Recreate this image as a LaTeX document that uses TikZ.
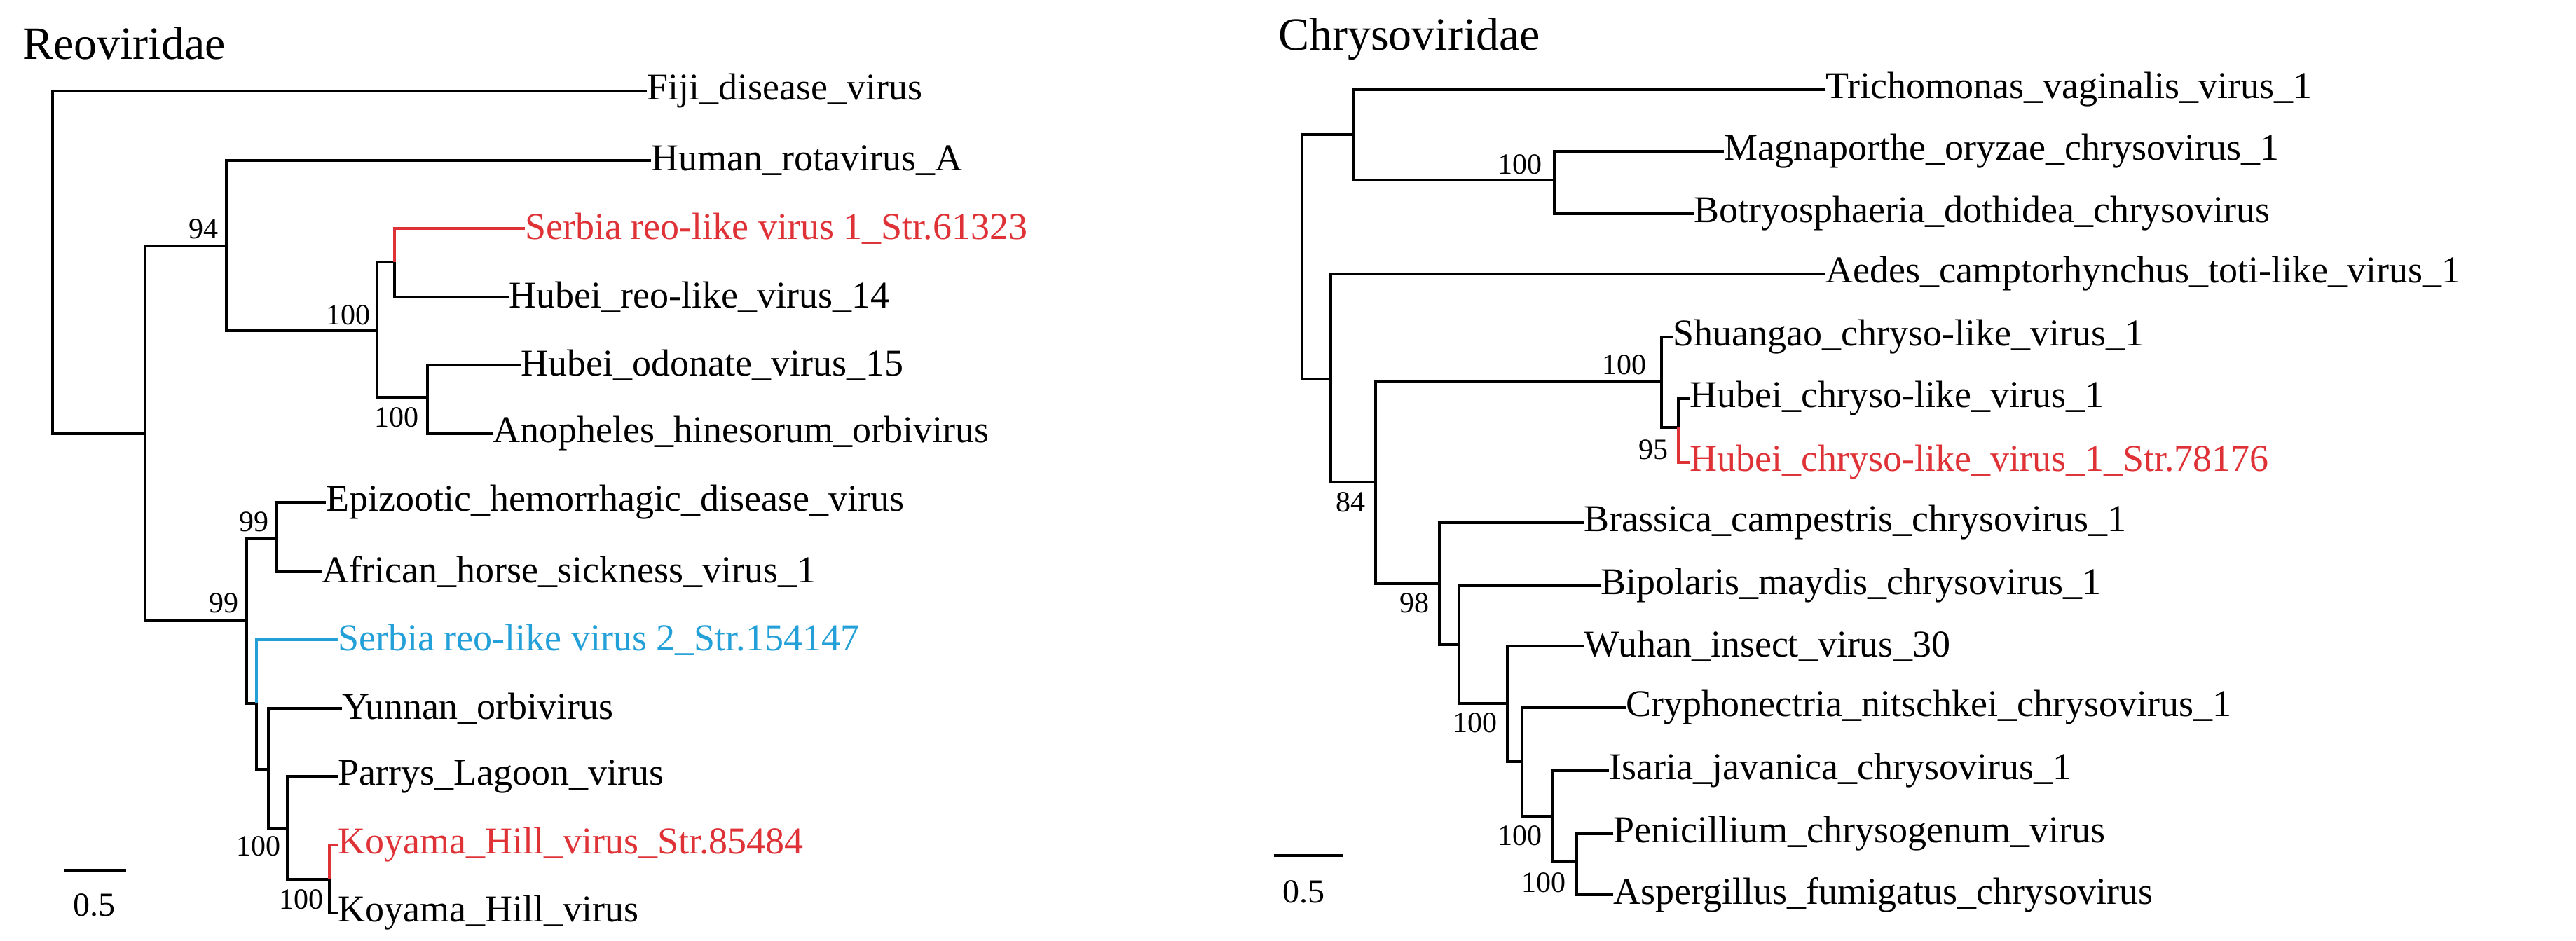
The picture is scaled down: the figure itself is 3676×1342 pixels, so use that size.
\documentclass[tikz,border=0pt]{standalone}
\usepackage{fontspec}
\setmainfont{Liberation Serif}
\definecolor{tred}{RGB}{222,50,55}
\definecolor{tblue}{RGB}{35,160,215}
\tikzset{
  br/.style={line width=3.5pt},
  leaf/.style={anchor=west,inner sep=0pt,font=\fontsize{54}{60}\selectfont},
  boot/.style={inner sep=0pt,font=\fontsize{42}{46}\selectfont},
  ttl/.style={anchor=west,inner sep=0pt,font=\fontsize{66}{72}\selectfont}
}
\begin{document}
\begin{tikzpicture}[x=1pt,y=-1pt]
\useasboundingbox (0,0) rectangle (3676,1342);
% ---- Left tree
\node[ttl] (t1) at (32,62) {Reoviridae};
\coordinate (r) at (75,375);
\coordinate (A) at (207,619);
\coordinate (B) at (323,351);
\coordinate (F) at (352,886);
\coordinate (C) at (538,472);
\coordinate (D) at (563,374);
\coordinate (E) at (610,567);
\coordinate (G) at (395,768);
\coordinate (H) at (366,1004);
\coordinate (I) at (383,1098);
\coordinate (J) at (410,1182);
\coordinate (K) at (470,1255);
\node[leaf] (fiji) at (923,130) {Fiji\_disease\_virus};
\node[leaf] (human) at (929,229) {Human\_rotavirus\_A};
\node[leaf,text=tred] (s1) at (749,326) {Serbia reo-like virus 1\_Str.61323};
\node[leaf] (h14) at (726,424) {Hubei\_reo-like\_virus\_14};
\node[leaf] (odo) at (743,521) {Hubei\_odonate\_virus\_15};
\node[leaf] (ano) at (703,619) {Anopheles\_hinesorum\_orbivirus};
\node[leaf] (epi) at (465,717) {Epizootic\_hemorrhagic\_disease\_virus};
\node[leaf] (afr) at (459,816) {African\_horse\_sickness\_virus\_1};
\node[leaf,text=tblue] (s2) at (482,913) {Serbia reo-like virus 2\_Str.154147};
\node[leaf] (yun) at (488,1011) {Yunnan\_orbivirus};
\node[leaf] (par) at (482,1108) {Parrys\_Lagoon\_virus};
\node[leaf,text=tred] (kys) at (482,1206) {Koyama\_Hill\_virus\_Str.85484};
\node[leaf] (ky) at (482,1303) {Koyama\_Hill\_virus};
\draw[br] (r) |- (fiji.west); \draw[br] (r) |- (A);
\draw[br] (A) |- (B); \draw[br] (A) |- (F);
\draw[br] (B) |- (human.west); \draw[br] (B) |- (C);
\draw[br] (C) |- (D); \draw[br] (C) |- (E);
\draw[br,tred] (D) |- (s1.west); \draw[br] (D) |- (h14.west);
\draw[br] (E) |- (odo.west); \draw[br] (E) |- (ano.west);
\draw[br] (F) |- (G); \draw[br] (F) |- (H);
\draw[br] (G) |- (epi.west); \draw[br] (G) |- (afr.west);
\draw[br,tblue] (H) |- (s2.west); \draw[br] (H) |- (I);
\draw[br] (I) |- (yun.west); \draw[br] (I) |- (J);
\draw[br] (J) |- (par.west); \draw[br] (J) |- (K);
\draw[br,tred] (K) |- (kys.west); \draw[br] (K) |- (ky.west);
\node[boot] (b1) at (290,327) {94};
\node[boot] (b2) at (497,450) {100};
\node[boot] (b3) at (566,596) {100};
\node[boot] (b4) at (362,745) {99};
\node[boot] (b5) at (319,861) {99};
\node[boot] (b6) at (369,1208) {100};
\node[boot] (b7) at (430,1284) {100};
\coordinate (sb1) at (91,1242); \coordinate (sb2) at (180,1242);
\draw[br] (sb1) -- (sb2);
\node[boot,font=\fontsize{48}{52}\selectfont] (sbl) at (134,1292) {0.5};
% ---- Right tree
\node[ttl] (t2) at (1824,56) {Chrysoviridae};
\coordinate (r2) at (1858,366);
\coordinate (P) at (1931,192);
\coordinate (Q) at (2218,257);
\coordinate (R) at (1899,541);
\coordinate (S) at (1963,688);
\coordinate (T) at (2371,545);
\coordinate (U) at (2395,610);
\coordinate (V) at (2054,833);
\coordinate (W) at (2082,920);
\coordinate (X) at (2151,1004);
\coordinate (Y) at (2172,1087);
\coordinate (Z) at (2215,1165);
\coordinate (AA) at (2250,1229);
\node[leaf] (tri) at (2605,128) {Trichomonas\_vaginalis\_virus\_1};
\node[leaf] (mag) at (2460,216) {Magnaporthe\_oryzae\_chrysovirus\_1};
\node[leaf] (bot) at (2417,305) {Botryosphaeria\_dothidea\_chrysovirus};
\node[leaf] (aed) at (2605,391) {Aedes\_camptorhynchus\_toti-like\_virus\_1};
\node[leaf] (shu) at (2387,481) {Shuangao\_chryso-like\_virus\_1};
\node[leaf] (hub) at (2411,569) {Hubei\_chryso-like\_virus\_1};
\node[leaf,text=tred] (hubs) at (2411,660) {Hubei\_chryso-like\_virus\_1\_Str.78176};
\node[leaf] (bra) at (2260,746) {Brassica\_campestris\_chrysovirus\_1};
\node[leaf] (bip) at (2284,836) {Bipolaris\_maydis\_chrysovirus\_1};
\node[leaf] (wuh) at (2260,922) {Wuhan\_insect\_virus\_30};
\node[leaf] (cry) at (2320,1010) {Cryphonectria\_nitschkei\_chrysovirus\_1};
\node[leaf] (isa) at (2296,1100) {Isaria\_javanica\_chrysovirus\_1};
\node[leaf] (pen) at (2302,1190) {Penicillium\_chrysogenum\_virus};
\node[leaf] (asp) at (2302,1277) {Aspergillus\_fumigatus\_chrysovirus};
\draw[br] (r2) |- (P); \draw[br] (r2) |- (R);
\draw[br] (P) |- (tri.west); \draw[br] (P) |- (Q);
\draw[br] (Q) |- (mag.west); \draw[br] (Q) |- (bot.west);
\draw[br] (R) |- (aed.west); \draw[br] (R) |- (S);
\draw[br] (S) |- (T); \draw[br] (S) |- (V);
\draw[br] (T) |- (shu.west); \draw[br] (T) |- (U);
\draw[br] (U) |- (hub.west); \draw[br,tred] (U) |- (hubs.west);
\draw[br] (V) |- (bra.west); \draw[br] (V) |- (W);
\draw[br] (W) |- (bip.west); \draw[br] (W) |- (X);
\draw[br] (X) |- (wuh.west); \draw[br] (X) |- (Y);
\draw[br] (Y) |- (cry.west); \draw[br] (Y) |- (Z);
\draw[br] (Z) |- (isa.west); \draw[br] (Z) |- (AA);
\draw[br] (AA) |- (pen.west); \draw[br] (AA) |- (asp.west);
\node[boot] (c1) at (2169,235) {100};
\node[boot] (c2) at (1927,717) {84};
\node[boot] (c3) at (2318,521) {100};
\node[boot] (c4) at (2359,642) {95};
\node[boot] (c5) at (2018,861) {98};
\node[boot] (c6) at (2105,1032) {100};
\node[boot] (c7) at (2169,1193) {100};
\node[boot] (c8) at (2203,1260) {100};
\coordinate (sc1) at (1818,1221); \coordinate (sc2) at (1917,1221);
\draw[br] (sc1) -- (sc2);
\node[boot,font=\fontsize{48}{52}\selectfont] (scl) at (1860,1273) {0.5};
\end{tikzpicture}
\end{document}
